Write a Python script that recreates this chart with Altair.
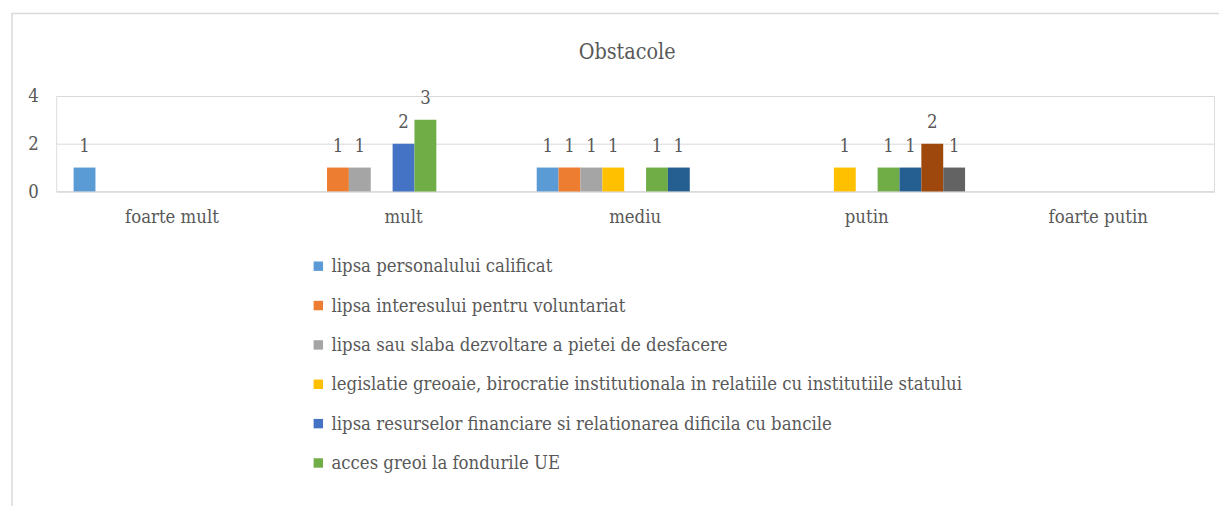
import altair as alt
import pandas as pd

categories = ["foarte mult", "mult", "mediu", "putin", "foarte putin"]

series = [
    "lipsa personalului calificat",
    "lipsa interesului pentru voluntariat",
    "lipsa sau slaba dezvoltare a pietei de desfacere",
    "legislatie greoaie, birocratie institutionala in relatiile cu institutiile statului",
    "lipsa resurselor financiare si relationarea dificila cu bancile",
    "acces greoi la fondurile UE",
    "seria 7",
    "seria 8",
    "seria 9",
]

s1 = [1, 0, 1, 0, 0]
s2 = [0, 1, 1, 0, 0]
s3 = [0, 1, 1, 0, 0]
s4 = [0, 0, 1, 1, 0]
s5 = [0, 2, 0, 0, 0]
s6 = [0, 3, 1, 1, 0]
s7 = [0, 0, 1, 1, 0]
s8 = [0, 0, 0, 2, 0]
s9 = [0, 0, 0, 1, 0]
values = [s1, s2, s3, s4, s5, s6, s7, s8, s9]

colors = ["#5B9BD5", "#ED7D31", "#A5A5A5", "#FFC000", "#4472C4",
          "#70AD47", "#255E91", "#9E480E", "#636363"]

rows = []
for si, s in enumerate(series):
    for ci, c in enumerate(categories):
        v = values[si][ci]
        if v:
            rows.append({"cat": c, "serie": s, "val": v})
df = pd.DataFrame(rows)

FONT = "DejaVu Serif Condensed"
TXT = "#595959"
GRID = "#D9D9D9"

x_enc = alt.X(
    "cat:N",
    scale=alt.Scale(domain=categories, paddingInner=0, paddingOuter=0),
    axis=alt.Axis(title=None, labelAngle=0, labelFont=FONT, labelFontSize=18.5,
                  labelColor=TXT, labelPadding=16, ticks=False, tickSize=0,
                  domain=True, domainColor=GRID, domainWidth=1, grid=False),
)
xo_enc = alt.XOffset("serie:N",
                     scale=alt.Scale(domain=series, paddingInner=0, paddingOuter=0.795))
y_enc = alt.Y(
    "val:Q",
    scale=alt.Scale(domain=[0, 4], nice=False),
    axis=alt.Axis(title=None, values=[0, 2, 4], labelFont=FONT, labelFontSize=18.5,
                  labelColor=TXT, labelPadding=18, ticks=False, tickSize=0,
                  domain=False, grid=True, gridColor=GRID, gridWidth=1),
)
color_enc = alt.Color(
    "serie:N",
    scale=alt.Scale(domain=series, range=colors),
    legend=alt.Legend(values=series[:6], orient="none", legendX=254.5, legendY=162,
                      direction="vertical", title=None, symbolType="square",
                      symbolSize=90, symbolStrokeWidth=0, labelFont=FONT,
                      labelFontSize=18.5, labelColor=TXT, rowPadding=20.6,
                      labelOffset=4, padding=0, labelLimit=2000),
)

frame = alt.Chart(alt.Data(values=[{}])).mark_rect(
    fillOpacity=0, stroke=GRID, strokeWidth=1.5
).encode(
    x=alt.value(-44.5), x2=alt.value(1400), y=alt.value(-83), y2=alt.value(700)
)

title = alt.Chart(alt.Data(values=[{"t": "Obstacole"}])).mark_text(
    baseline="alphabetic", align="center", font=FONT, fontSize=21.5, color=TXT
).encode(x=alt.value(574.5), y=alt.value(-37), text="t:N")

bars = alt.Chart(df).mark_bar().encode(
    x=x_enc, xOffset=xo_enc, y=y_enc, color=color_enc
)

labels = alt.Chart(df).mark_text(
    baseline="alphabetic", dy=-16, font=FONT, fontSize=18.5, color=TXT
).encode(
    x=x_enc, xOffset=xo_enc, y=y_enc, text="val:Q"
)

chart = alt.layer(frame, title, bars, labels).properties(
    width=1165,
    height=96,
    padding={"left": 48.5, "top": 87, "right": 5, "bottom": 315},
    autosize=alt.AutoSizeParams(type="none"),
).configure_view(stroke=None).configure(background="white")

chart.save("out.html", embed_options={"renderer": "svg", "actions": False})
